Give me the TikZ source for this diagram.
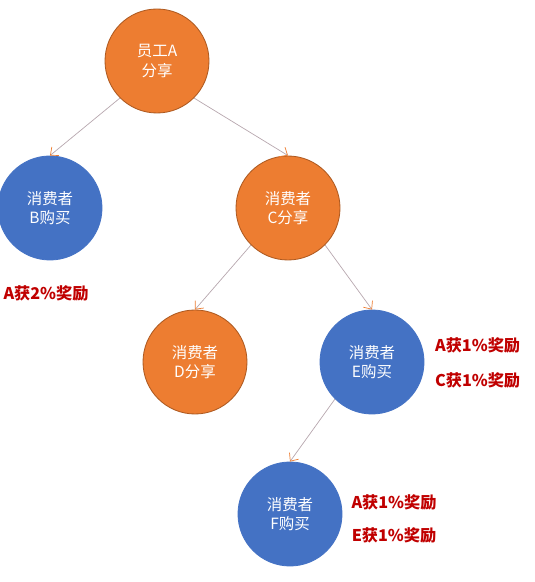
\documentclass[tikz,border=0pt]{standalone}
\usepackage{fontspec}
\setmainfont{Noto Sans CJK SC}
\usepackage{tikz,xcolor}
\usetikzlibrary{shapes.geometric, arrows.meta}

\definecolor{shareorange}{HTML}{ED7D31}
\definecolor{shareedge}{HTML}{AE5A21}
\definecolor{buyblue}{HTML}{4472C4}
\definecolor{rewardred}{HTML}{C00000}

\tikzset{
    share/.style={circle, fill=shareorange, draw=shareedge, line width=0.6pt, minimum size=2.6cm, text=white, align=center, font=\fontsize{11}{13.8}\selectfont},
    buy/.style={circle, fill=buyblue, draw=buyblue, line width=0.6pt, minimum size=2.6cm, text=white, align=center, font=\fontsize{11}{13.8}\selectfont},
    link/.style={draw=buyblue!55!shareorange!65, line width=0.5pt, -{Straight Barb[length=1.6mm, width=2.8mm, color=shareorange]}},
    reward/.style={text=rewardred, font=\fontsize{11.5}{14}\selectfont\bfseries}
}

\begin{document}
\begin{tikzpicture}

    \useasboundingbox (0,0) rectangle (13.35,14.55);

    % Staff member A
    \node[share] (staffA) at (3.925, 13.025) {员工A\\分享};

    % First level consumers
    \node[buy] (buyerB) at (1.25, 9.35) {消费者\\B购买};
    \node[share] (sharerC) at (7.2, 9.35) {消费者\\C分享};

    % Second level consumers
    \node[share] (sharerD) at (4.875, 5.5) {消费者\\D分享};
    \node[buy] (buyerE) at (9.3, 5.5) {消费者\\E购买};

    % Third level consumer
    \node[buy] (buyerF) at (7.25, 1.7) {消费者\\F购买};

    % Connectors
    \draw[link] (staffA.225) -- (buyerB.north);
    \draw[link] (staffA.315) -- (sharerC.north);
    \draw[link] (sharerC.225) -- (sharerD.north);
    \draw[link] (sharerC.315) -- (buyerE.north);
    \draw[link] (buyerE.225) -- (buyerF.north);

    % Rewards
    \node[reward] (rewardB) at (1.15, 7.225) {A获2\%奖励};
    \node[reward] (rewardEA) at (11.94, 5.925) {A获1\%奖励};
    \node[reward] (rewardEC) at (11.94, 5.05) {C获1\%奖励};
    \node[reward] (rewardFA) at (9.85, 2.0) {A获1\%奖励};
    \node[reward] (rewardFE) at (9.85, 1.175) {E获1\%奖励};

\end{tikzpicture}
\end{document}
